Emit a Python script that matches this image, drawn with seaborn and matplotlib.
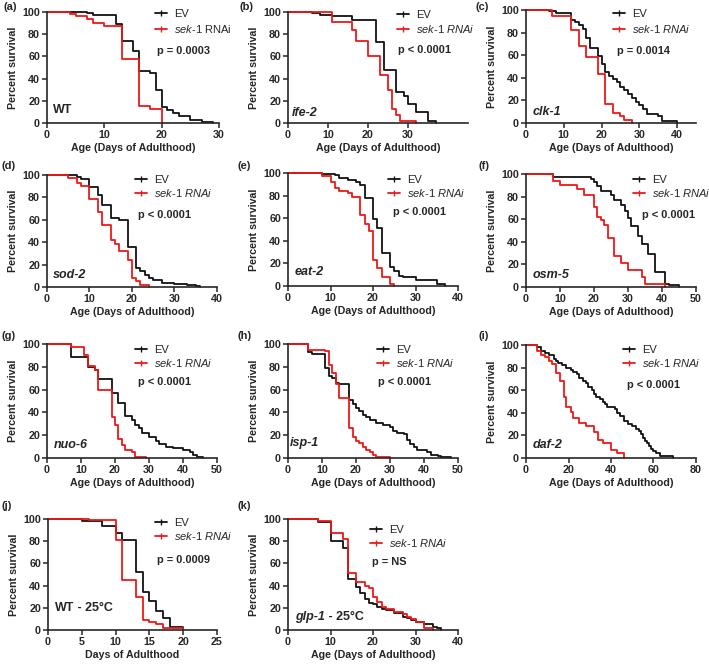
import numpy as np
import pandas as pd
import matplotlib.pyplot as plt
import seaborn as sns
from matplotlib.lines import Line2D

# === Data (day, percent survival) ===
a_ev_day = [0, 7, 8, 12, 13, 15, 16, 18, 19, 20, 21, 22, 23, 25, 27, 29]
a_ev_surv = [100, 99, 97, 89, 74, 65, 47, 45, 30, 14, 12, 9, 6, 3, 1, 0]
a_rn_day = [0, 4, 5, 7, 8, 10, 13, 16, 18, 20]
a_rn_surv = [100, 98, 96, 94, 90, 87, 58, 15, 13, 0]

b_ev_day = [0, 6, 8, 11, 16, 22, 24, 27, 29, 30, 32, 35, 37]
b_ev_surv = [100, 99, 97, 96, 93, 73, 48, 28, 24, 17, 10, 2, 0]
b_rn_day = [0, 11, 16, 17, 20, 23, 25, 26, 27, 28, 32]
b_rn_surv = [100, 91, 84, 74, 60, 43, 30, 13, 7, 2, 0]

c_ev_day = [0, 6, 8, 12, 13, 14, 15, 16, 17, 19, 20, 21, 22, 23, 24, 25, 26, 27, 28, 29, 30, 31, 32, 35, 36, 40]
c_ev_surv = [100, 99, 97, 91, 89, 87, 83, 75, 66, 59, 52, 45, 42, 39, 36, 32, 29, 26, 22, 19, 16, 12, 8, 6, 2, 0]
c_rn_day = [0, 7, 12, 14, 16, 19, 21, 23, 25, 26, 28]
c_rn_surv = [100, 95, 82, 68, 58, 43, 17, 9, 6, 3, 0]

d_ev_day = [0, 7, 8, 10, 12, 13, 15, 17, 19, 21, 22, 23, 24, 25, 27, 30, 33, 35, 36]
d_ev_surv = [100, 98, 96, 89, 82, 73, 62, 60, 36, 17, 14, 11, 8, 6, 4, 3, 2, 1, 0]
d_rn_day = [0, 5, 7, 8, 10, 12, 13, 15, 16, 17, 19, 20, 21, 22, 24]
d_rn_surv = [100, 97, 93, 90, 79, 67, 55, 42, 38, 32, 24, 8, 5, 2, 0]

e_ev_day = [0, 8, 11, 12, 14, 16, 17, 18, 20, 21, 22, 24, 25, 26, 27, 30, 35, 37]
e_ev_surv = [100, 99, 98, 96, 94, 92, 89, 78, 59, 51, 29, 17, 13, 9, 8, 5, 2, 0]
e_rn_day = [0, 8, 10, 11, 12, 14, 15, 17, 18, 19, 20, 21, 22, 24, 25]
e_rn_surv = [100, 97, 92, 87, 84, 82, 79, 63, 55, 49, 23, 16, 8, 2, 0]

f_ev_day = [0, 8, 19, 20, 21, 22, 25, 26, 28, 29, 30, 31, 33, 34, 36, 38, 41, 42, 45]
f_ev_surv = [100, 97, 96, 93, 89, 85, 81, 77, 73, 67, 61, 54, 45, 38, 29, 13, 3, 2, 0]
f_rn_day = [0, 8, 10, 15, 17, 20, 21, 22, 23, 24, 26, 28, 30, 34, 35, 41]
f_rn_surv = [100, 94, 90, 87, 81, 71, 62, 59, 55, 43, 27, 21, 15, 9, 3, 0]

g_ev_day = [0, 7, 12, 14, 15, 19, 21, 23, 25, 26, 27, 28, 30, 32, 33, 35, 37, 40, 42, 43, 44, 46]
g_ev_surv = [100, 89, 80, 77, 69, 57, 48, 37, 33, 29, 26, 22, 18, 15, 12, 10, 9, 7, 5, 3, 1, 0]
g_rn_day = [0, 7, 11, 12, 14, 15, 19, 20, 21, 22, 23, 25, 26, 29]
g_rn_surv = [100, 97, 90, 81, 77, 60, 36, 29, 17, 11, 7, 5, 1, 0]

h_ev_day = [0, 6, 7, 11, 12, 13, 14, 15, 18, 19, 20, 21, 22, 23, 24, 26, 28, 30, 31, 32, 34, 35, 36, 37, 38, 41, 42, 44, 45, 48]
h_ev_surv = [100, 93, 91, 79, 72, 70, 66, 65, 51, 47, 44, 41, 38, 36, 33, 31, 29, 27, 24, 22, 21, 16, 12, 10, 7, 5, 3, 2, 1, 0]
h_rn_day = [0, 6, 11, 12, 13, 14, 15, 18, 19, 20, 21, 22, 23, 24, 25, 26, 30]
h_rn_surv = [100, 95, 94, 82, 75, 65, 53, 26, 18, 15, 13, 10, 7, 5, 3, 1, 0]

i_ev_day = [0, 5, 7, 9, 11, 13, 14, 15, 17, 19, 21, 22, 24, 25, 27, 28, 29, 31, 32, 33, 35, 36, 37, 38,
            42, 43, 44, 46, 48, 50, 52, 53, 54, 55, 56, 57, 58, 59, 60, 61, 63, 69]
i_ev_surv = [100, 98, 95, 93, 91, 88, 86, 84, 82, 80, 78, 76, 74, 71, 68, 66, 63, 60, 57, 54, 52, 50, 48, 45,
             43, 40, 37, 33, 30, 28, 26, 24, 21, 18, 15, 13, 11, 8, 6, 4, 2, 0]
i_rn_day = [0, 5, 7, 9, 11, 12, 14, 16, 18, 19, 21, 22, 25, 28, 32, 34, 36, 40, 43, 46]
i_rn_surv = [100, 95, 91, 89, 86, 83, 75, 68, 54, 45, 41, 35, 31, 28, 23, 16, 13, 7, 4, 0]

j_ev_day = [0, 5, 8, 10, 11, 13, 14, 15, 16, 17, 18, 20]
j_ev_surv = [100, 98, 94, 87, 81, 52, 34, 26, 17, 11, 3, 0]
j_rn_day = [0, 6, 10, 11, 13, 14, 15, 16, 17, 20]
j_rn_surv = [100, 99, 81, 45, 30, 9, 7, 5, 2, 0]

k_ev_day = [0, 7, 10, 13, 14, 16, 17, 18, 19, 20, 21, 22, 23, 25, 27, 28, 29, 30, 32, 34, 35, 36]
k_ev_surv = [100, 97, 80, 74, 46, 39, 33, 28, 24, 23, 21, 19, 18, 15, 12, 11, 9, 7, 5, 3, 2, 0]
k_rn_day = [0, 7, 10, 13, 14, 16, 18, 19, 20, 21, 22, 23, 25, 27, 28, 29, 30, 32, 34]
k_rn_surv = [100, 98, 87, 82, 51, 43, 40, 38, 30, 25, 21, 19, 16, 14, 12, 10, 7, 2, 0]

p_values = ["p = 0.0003", "p < 0.0001", "p = 0.0014", "p < 0.0001", "p < 0.0001", "p < 0.0001",
            "p < 0.0001", "p < 0.0001", "p < 0.0001", "p = 0.0009", "p = NS"]
genotypes = ["WT", "ife-2", "clk-1", "sod-2", "eat-2", "osm-5", "nuo-6", "isp-1", "daf-2",
             "WT", "glp-1"]
x_limits = [30, 45, 45, 40, 40, 50, 50, 50, 80, 25, 40]
x_steps = [10, 10, 10, 10, 10, 10, 10, 10, 20, 5, 10]

curves = [
    (a_ev_day, a_ev_surv, a_rn_day, a_rn_surv),
    (b_ev_day, b_ev_surv, b_rn_day, b_rn_surv),
    (c_ev_day, c_ev_surv, c_rn_day, c_rn_surv),
    (d_ev_day, d_ev_surv, d_rn_day, d_rn_surv),
    (e_ev_day, e_ev_surv, e_rn_day, e_rn_surv),
    (f_ev_day, f_ev_surv, f_rn_day, f_rn_surv),
    (g_ev_day, g_ev_surv, g_rn_day, g_rn_surv),
    (h_ev_day, h_ev_surv, h_rn_day, h_rn_surv),
    (i_ev_day, i_ev_surv, i_rn_day, i_rn_surv),
    (j_ev_day, j_ev_surv, j_rn_day, j_rn_surv),
    (k_ev_day, k_ev_surv, k_rn_day, k_rn_surv),
]

# === Layout (pixels) ===
W, H = 709, 666
# left, right, top, bottom of each axes box
boxes = [
    (47, 219, 12, 123), (288, 468, 12, 123), (526, 696, 10, 123),
    (47, 217, 175, 287), (288, 458, 173, 286), (526, 696, 174, 287),
    (47, 217, 344, 458), (288, 458, 344, 458), (526, 696, 345, 458),
    (48, 217, 519, 630), (288, 458, 519, 630),
]
letter_pos = [(4, 2), (240, 2), (476, 2), (2, 161), (237, 161), (479, 161),
              (2, 331), (237, 331), (479, 331), (2, 501), (237, 501)]
legend_pos = [(155, 9), (397, 10), (613, 9), (135, 175), (388, 175), (633, 175),
              (135, 345), (377, 345), (623, 345), (155, 518), (370, 525)]
legend_gap = [15, 14, 15, 12.5, 12.5, 12.5, 12.5, 12.5, 12.5, 13, 12.5]
pval_pos = [(157, 51), (398, 50), (617, 51), (138, 215), (393, 212), (642, 215),
            (138, 382), (378, 382), (627, 385), (157, 560), (372, 562)]
geno_pos = [(53, 110), (292, 113), (533, 112), (53, 275), (295, 272), (533, 275),
            (54, 445), (290, 443), (533, 445), (55, 608), (295, 617)]

RED = "#f01818"
BLACK = "#111111"

sns.set_style("ticks")
plt.rcParams['font.family'] = ['Liberation Sans', 'DejaVu Sans']
plt.rcParams['mathtext.fontset'] = 'custom'
plt.rcParams['mathtext.it'] = 'Liberation Sans:italic'
plt.rcParams['mathtext.rm'] = 'Liberation Sans'

fig = plt.figure(figsize=(W / 100, H / 100), dpi=100)
fig.patch.set_facecolor("white")

FS = 7.7
for n, (ev_d, ev_s, rn_d, rn_s) in enumerate(curves):
    l, r, t, b = boxes[n]
    ax = fig.add_axes([l / W, 1 - b / H, (r - l) / W, (b - t) / H])
    df = pd.concat([
        pd.DataFrame({"day": ev_d, "surv": ev_s, "group": "EV"}),
        pd.DataFrame({"day": rn_d, "surv": rn_s, "group": "sek-1 RNAi"}),
    ])
    sns.lineplot(data=df, x="day", y="surv", hue="group",
                 palette={"EV": BLACK, "sek-1 RNAi": RED},
                 estimator=None, sort=True, drawstyle="steps-post",
                 lw=1.3, legend=False, ax=ax, clip_on=False)
    ax.set_xlim(0, x_limits[n])
    ax.set_ylim(0, 100)
    xt = np.arange(0, x_limits[n] + 0.1, x_steps[n])
    if n == 1:
        xt = np.array([0, 10, 20, 30])
    ax.set_xticks(xt)
    ax.set_yticks([0, 20, 40, 60, 80, 100])
    ax.tick_params(labelsize=FS, width=1.1, length=3.5, pad=1.5)
    for lab in ax.get_xticklabels() + ax.get_yticklabels():
        lab.set_fontweight("bold")
    for sp in ["left", "bottom"]:
        ax.spines[sp].set_linewidth(1.2)
    sns.despine(ax=ax)
    ax.set_xlabel("Days of Adulthood" if n == 9 else "Age (Days of Adulthood)",
                  fontsize=FS, fontweight="bold", labelpad=2)
    ax.set_ylabel("Percent survival", fontsize=FS, fontweight="bold", labelpad=3)

    # legend
    lx, ly = legend_pos[n]
    handles = [Line2D([], [], color=BLACK, lw=1.3, marker="|", markersize=4),
               Line2D([], [], color=RED, lw=1.3, marker="|", markersize=4)]
    rn_label = r"$\mathit{sek}$-$\mathit{1}$ RNAi" if n == 0 else r"$\mathit{sek}$-$\mathit{1\ RNAi}$"
    leg = ax.legend(handles, ["EV", rn_label], loc="upper left",
                    bbox_to_anchor=(lx / W, 1 - ly / H), bbox_transform=fig.transFigure,
                    frameon=False, fontsize=8, borderpad=0, borderaxespad=0,
                    handlelength=1.1, handletextpad=0.6,
                    labelspacing=(legend_gap[n] - 11) / 11)

    # p value
    px, py = pval_pos[n]
    fig.text(px / W, 1 - py / H, p_values[n], fontsize=FS + 0.2, fontweight="bold",
             ha="left", va="center")

    # genotype label
    gx, gy = geno_pos[n]
    g = genotypes[n]
    style = "normal" if g == "WT" else "italic"
    t1 = fig.text(gx / W, 1 - gy / H, g, fontsize=9, fontweight="bold",
                  style=style, ha="left", va="center")
    if n >= 9:
        fig.text(0, 0, "", fontsize=9)
        ax.annotate(" - 25\u00b0C", xy=(1, 0.5), xycoords=t1, fontsize=9,
                    fontweight="bold", ha="left", va="center")

    # panel letter
    fx, fy = letter_pos[n]
    fig.text(fx / W, 1 - fy / H, "(" + "abcdefghijk"[n] + ")", fontsize=8,
             fontweight="bold", ha="left", va="top")

plt.savefig("out.png", dpi=100)
